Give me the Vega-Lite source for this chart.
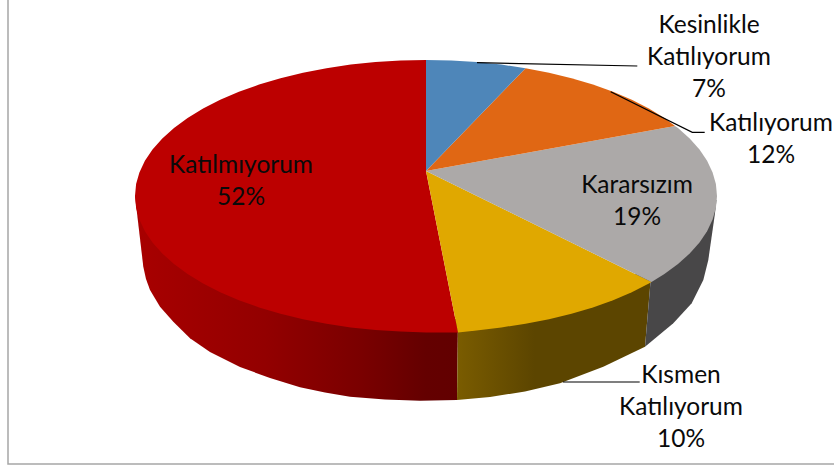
{
"$schema":"https://vega.github.io/schema/vega-lite/v6.json",
"width":834,"height":468,"autosize":{"type":"none"},"padding":0,
"background":"white","view":{"stroke":null},
"datasets":{
"blue":[{"x":426,"y":171,"i":0},{"x":426,"y":60,"i":1},{"x":451.4,"y":60.5,"i":2},{"x":476.5,"y":62.1,"i":3},{"x":501.3,"y":64.6,"i":4},{"x":525.5,"y":68.2,"i":5}],
"orange":[{"x":426,"y":171,"i":0},{"x":525.5,"y":68.2,"i":1},{"x":549,"y":72.7,"i":2},{"x":571.5,"y":78.2,"i":3},{"x":592.9,"y":84.6,"i":4},{"x":613.1,"y":91.8,"i":5},{"x":631.8,"y":99.8,"i":6},{"x":648.9,"y":108.6,"i":7},{"x":664.4,"y":118,"i":8},{"x":675,"y":126,"i":9}],
"gray":[{"x":426,"y":171,"i":0},{"x":675,"y":126,"i":1},{"x":678,"y":128,"i":2},{"x":689.7,"y":138.5,"i":3},{"x":699.5,"y":149.5,"i":4},{"x":707.1,"y":160.8,"i":5},{"x":712.6,"y":172.4,"i":6},{"x":715.9,"y":184.1,"i":7},{"x":717,"y":196,"i":8},{"x":715.9,"y":207.9,"i":9},{"x":712.6,"y":219.6,"i":10},{"x":707.1,"y":231.2,"i":11},{"x":699.5,"y":242.5,"i":12},{"x":689.7,"y":253.5,"i":13},{"x":678,"y":264,"i":14},{"x":664.4,"y":274,"i":15},{"x":651.5,"y":282,"i":16}],
"gold":[{"x":426,"y":171,"i":0},{"x":651.5,"y":282,"i":1},{"x":648.9,"y":283.4,"i":2},{"x":631.8,"y":292.2,"i":3},{"x":613.1,"y":300.2,"i":4},{"x":592.9,"y":307.4,"i":5},{"x":571.5,"y":313.8,"i":6},{"x":549,"y":319.3,"i":7},{"x":525.5,"y":323.8,"i":8},{"x":501.3,"y":327.4,"i":9},{"x":476.5,"y":330.4,"i":10},{"x":458,"y":332.5,"i":11}],
"red":[{"x":426,"y":171,"i":0},{"x":458,"y":332.5,"i":1},{"x":451.4,"y":332.5,"i":2},{"x":426,"y":332.5,"i":3},{"x":400.6,"y":331.5,"i":4},{"x":375.5,"y":329.9,"i":5},{"x":350.7,"y":327.4,"i":6},{"x":326.5,"y":323.8,"i":7},{"x":303,"y":319.3,"i":8},{"x":280.5,"y":313.8,"i":9},{"x":259.1,"y":307.4,"i":10},{"x":238.9,"y":300.2,"i":11},{"x":220.2,"y":292.2,"i":12},{"x":203.1,"y":283.4,"i":13},{"x":187.6,"y":274,"i":14},{"x":174,"y":264,"i":15},{"x":162.3,"y":253.5,"i":16},{"x":152.5,"y":242.5,"i":17},{"x":144.9,"y":231.2,"i":18},{"x":139.4,"y":219.6,"i":19},{"x":136.1,"y":207.9,"i":20},{"x":135,"y":196,"i":21},{"x":136.1,"y":184.1,"i":22},{"x":139.4,"y":172.4,"i":23},{"x":144.9,"y":160.8,"i":24},{"x":152.5,"y":149.5,"i":25},{"x":162.3,"y":138.5,"i":26},{"x":174,"y":128,"i":27},{"x":187.6,"y":118,"i":28},{"x":203.1,"y":108.6,"i":29},{"x":220.2,"y":99.8,"i":30},{"x":238.9,"y":91.8,"i":31},{"x":259.1,"y":84.6,"i":32},{"x":280.5,"y":78.2,"i":33},{"x":303,"y":72.7,"i":34},{"x":326.5,"y":68.2,"i":35},{"x":350.7,"y":64.6,"i":36},{"x":375.5,"y":62.1,"i":37},{"x":400.6,"y":60.5,"i":38},{"x":426,"y":60,"i":39}],
"wallRed":[{"x":300,"y":250,"i":0},{"x":135,"y":196,"i":1},{"x":143.3,"y":266.7,"i":2},{"x":146,"y":279,"i":3},{"x":150,"y":290,"i":4},{"x":160,"y":306.7,"i":5},{"x":173.3,"y":321.7,"i":6},{"x":190,"y":338.3,"i":7},{"x":210,"y":352,"i":8},{"x":240,"y":367,"i":9},{"x":270,"y":378,"i":10},{"x":300,"y":387.3,"i":11},{"x":325,"y":392.5,"i":12},{"x":350,"y":396.7,"i":13},{"x":385,"y":399.5,"i":14},{"x":420,"y":400.7,"i":15},{"x":457,"y":400,"i":16},{"x":458,"y":320,"i":17}],
"wallGold":[{"x":458,"y":320,"i":0},{"x":457,"y":400,"i":1},{"x":490,"y":397,"i":2},{"x":525,"y":391.5,"i":3},{"x":560,"y":383.3,"i":4},{"x":603.3,"y":366.7,"i":5},{"x":645,"y":346.7,"i":6},{"x":651.5,"y":270,"i":7}],
"wallGray":[{"x":651.5,"y":270,"i":0},{"x":645,"y":346.7,"i":1},{"x":673.3,"y":323.3,"i":2},{"x":691.7,"y":303.3,"i":3},{"x":703.3,"y":280,"i":4},{"x":708.3,"y":260,"i":5},{"x":715,"y":213.3,"i":6},{"x":716.5,"y":200,"i":7},{"x":700,"y":200,"i":8}],
"leaders":[{"k":"a","x":477,"y":62.7,"i":0},{"k":"a","x":637.3,"y":66,"i":1},{"k":"b","x":610.7,"y":91.7,"i":0},{"k":"b","x":692.3,"y":132.3,"i":1},{"k":"b","x":704.7,"y":132.3,"i":2},{"k":"c","x":563,"y":382,"i":0},{"k":"c","x":639.7,"y":382,"i":1}],
"border":[{"x":8,"y":0,"i":0},{"x":8,"y":464,"i":1},{"x":834,"y":464,"i":2}],
"labels":[{"t":"Kesinlikle\nKatılıyorum\n7%","x":709,"y":26},{"t":"Katılıyorum\n12%","x":771,"y":124},{"t":"Kararsızım\n19%","x":637,"y":186},{"t":"Kısmen\nKatılıyorum\n10%","x":681,"y":376},{"t":"Katılmıyorum\n52%","x":241,"y":166}]
},
"encoding":{
"x":{"field":"x","type":"quantitative","scale":{"domain":[0,834],"nice":false,"zero":false},"axis":null},
"y":{"field":"y","type":"quantitative","scale":{"domain":[468,0],"nice":false,"zero":false},"axis":null},
"order":{"field":"i","type":"ordinal"}
},
"layer":[
{"data":{"name":"border"},"mark":{"type":"line","stroke":"#a6a6a6","strokeWidth":1.5}},
{"data":{"name":"wallRed"},"mark":{"type":"line","strokeWidth":0,"fill":{"gradient":"linear","x1":0,"x2":1,"y1":0,"y2":0,"stops":[{"offset":0,"color":"#a80000"},{"offset":0.4,"color":"#930000"},{"offset":0.7,"color":"#7a0000"},{"offset":0.9,"color":"#640000"},{"offset":1,"color":"#620000"}]}}},
{"data":{"name":"wallGold"},"mark":{"type":"line","strokeWidth":0,"fill":{"gradient":"linear","x1":0,"x2":1,"y1":0,"y2":0,"stops":[{"offset":0,"color":"#7a5c00"},{"offset":0.4,"color":"#5c4500"},{"offset":1,"color":"#5c4500"}]}}},
{"data":{"name":"wallGray"},"mark":{"type":"line","strokeWidth":0,"fill":"#484748"}},
{"data":{"name":"red"},"mark":{"type":"line","strokeWidth":0,"fill":"#bc0000"}},
{"data":{"name":"gold"},"mark":{"type":"line","strokeWidth":0,"fill":"#e0a800"}},
{"data":{"name":"gray"},"mark":{"type":"line","strokeWidth":0,"fill":"#aca9a8"}},
{"data":{"name":"orange"},"mark":{"type":"line","strokeWidth":0,"fill":"#e06714"}},
{"data":{"name":"blue"},"mark":{"type":"line","strokeWidth":0,"fill":"#4e86b9"}},
{"data":{"name":"leaders"},"mark":{"type":"line","stroke":"black","strokeWidth":1.2},"encoding":{"detail":{"field":"k"}}},
{"data":{"name":"labels"},"mark":{"type":"text","font":"Lato","fontSize":24.5,"lineHeight":32,"lineBreak":"\n","align":"center","baseline":"middle","color":"#0a0a0a"},"encoding":{"text":{"field":"t"},"order":null}}
]
}
